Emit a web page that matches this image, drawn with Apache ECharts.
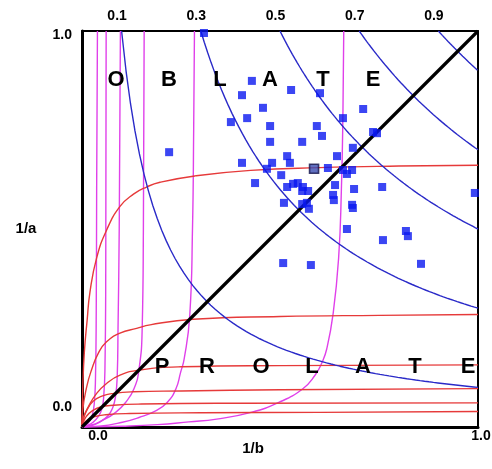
<!DOCTYPE html>
<html>
<head>
<meta charset="utf-8">
<script src="https://cdn.jsdelivr.net/npm/echarts@6/dist/echarts.min.js"></script>
<style>
  html, body { margin: 0; padding: 0; background: #ffffff; }
  #chart { width: 492px; height: 469px; }
</style>
</head>
<body>
<div id="chart"></div>
<script>
// Iso-lines of (1/a)·(1/b), labelled along the top edge
const isoProducts = [0.1, 0.3, 0.5, 0.7, 0.9];
const topTickValues = [0.1, 0.3, 0.5, 0.7, 0.9];

// Red guide curves [1/b, 1/a]; the magenta family is their mirror image about 1/a = 1/b
const redCurve039 = [[0,0],[0.005,0.010],[0.015,0.019],[0.03,0.026],[0.06,0.031],[0.12,0.034],[0.3,0.036],[0.6,0.037],[1,0.039]];
const redCurve061 = [[0,0],[0.004,0.014],[0.012,0.028],[0.025,0.040],[0.045,0.050],[0.08,0.055],[0.15,0.058],[0.4,0.060],[1,0.061]];
const redCurve097 = [[0,0],[0.004,0.020],[0.012,0.042],[0.028,0.065],[0.05,0.078],[0.08,0.085],[0.13,0.089],[0.25,0.091],[0.5,0.094],[1,0.097]];
const redCurve157 = [[0,0],[0.003,0.022],[0.016,0.051],[0.037,0.085],[0.062,0.110],[0.096,0.131],[0.146,0.144],[0.25,0.152],[0.5,0.155],[1,0.157]];
const redCurve283 = [[0,0],[0.002,0.043],[0.012,0.102],[0.024,0.144],[0.041,0.186],[0.062,0.215],[0.096,0.237],[0.138,0.249],[0.172,0.258],[0.28,0.272],[0.5,0.279],[0.75,0.282],[1,0.284]];
const redCurve660 = [[0,0],[0.002,0.10],[0.006,0.19],[0.013,0.27],[0.020,0.34],[0.037,0.427],[0.062,0.497],[0.096,0.557],[0.13,0.588],[0.163,0.606],[0.197,0.618],[0.285,0.634],[0.426,0.648],[0.6,0.655],[0.8,0.659],[1,0.661]];
const redCurves = [redCurve039, redCurve061, redCurve097, redCurve157, redCurve283, redCurve660];

// Measured samples [1/b, 1/a]
const samples = [
  [0.308,0.995],[0.429,0.874],[0.404,0.838],[0.528,0.851],[0.601,0.843],
  [0.457,0.806],[0.417,0.780],[0.376,0.770],[0.475,0.760],[0.593,0.760],
  [0.606,0.735],[0.710,0.803],[0.659,0.780],[0.735,0.745],[0.745,0.742],
  [0.475,0.720],[0.556,0.720],[0.684,0.705],[0.220,0.694],[0.404,0.667],
  [0.480,0.667],[0.518,0.684],[0.525,0.667],[0.644,0.684],[0.621,0.654],
  [0.467,0.652],[0.503,0.636],[0.659,0.649],[0.682,0.649],[0.669,0.639],
  [0.437,0.616],[0.518,0.606],[0.533,0.614],[0.545,0.616],[0.558,0.606],
  [0.571,0.596],[0.556,0.596],[0.639,0.611],[0.687,0.601],[0.758,0.606],
  [0.634,0.586],[0.636,0.573],[0.510,0.566],[0.556,0.563],[0.568,0.566],
  [0.573,0.551],[0.682,0.561],[0.684,0.553],[0.992,0.591],[0.669,0.500],
  [0.760,0.472],[0.818,0.495],[0.823,0.482],[0.508,0.414],[0.578,0.409],
  [0.856,0.412]
];
const markedSample = [[0.586,0.652]];

const diagonal = [[0,0],[1,1]];
const oblateLetters = ['O','B','L','A','T','E'];
const prolateLetters = ['P','R','O','L','A','T','E'];

// ---- drawing ----
const RED = '#e63a3a', MAGENTA = '#e040ea', BLUE_LINE = '#2a2ac8', BLUE_PT = '#0a18f0';
const G = { left: 82, top: 31, width: 396, height: 396 };
const FONT = 'Liberation Sans, Arial, sans-serif';

function isoCurve(k) {
  const pts = [];
  const n = 80;
  for (let i = 0; i <= n; i++) {
    const x = k + (1 - k) * i / n;
    pts.push([x, k / x]);
  }
  return pts;
}

const series = [];
redCurves.forEach(c => {
  series.push({
    type: 'line', data: c.map(p => [p[1], p[0]]), showSymbol: false, smooth: 0.5,
    lineStyle: { color: MAGENTA, width: 1.4 }, z: 2, silent: true
  });
});
redCurves.forEach(c => {
  series.push({
    type: 'line', data: c, showSymbol: false, smooth: 0.5,
    lineStyle: { color: RED, width: 1.4 }, z: 3, silent: true
  });
});
isoProducts.forEach(k => {
  series.push({
    type: 'line', data: isoCurve(k), showSymbol: false,
    lineStyle: { color: BLUE_LINE, width: 1.4 }, z: 4, silent: true
  });
});
series.push({
  type: 'line', data: diagonal, showSymbol: false,
  lineStyle: { color: '#000', width: 3.2 }, z: 5, silent: true
});
series.push({
  type: 'scatter', data: samples, symbol: 'rect', symbolSize: 8,
  itemStyle: { color: BLUE_PT }, z: 6
});
series.push({
  type: 'scatter', data: markedSample, symbol: 'rect', symbolSize: 9,
  itemStyle: { color: '#3a4cb0', borderColor: '#14144a', borderWidth: 1.6 }, z: 7
});

const oblateX = [116, 169, 220, 270, 323, 373];
const prolateX = [162, 207, 261, 312, 363, 415, 468];
const graphic = [];
const letterStyle = { fontFamily: FONT, fontWeight: 'bold', fontSize: 22, fill: '#000', textAlign: 'center', textVerticalAlign: 'middle' };
oblateLetters.forEach((t, i) => graphic.push({ type: 'text', x: oblateX[i], y: 80, z: 100, style: Object.assign({ text: t }, letterStyle) }));
prolateLetters.forEach((t, i) => graphic.push({ type: 'text', x: prolateX[i], y: 367, z: 100, style: Object.assign({ text: t }, letterStyle) }));

const tickFont = { fontFamily: FONT, fontWeight: 'bold', fontSize: 14, fill: '#000' };
const sideLabels = [
  { text: '1.0', x: 72, y: 35, align: 'right' },
  { text: '0.0', x: 72, y: 407, align: 'right' },
  { text: '0.0', x: 98, y: 436, align: 'center' },
  { text: '1.0', x: 481, y: 436, align: 'center' }
];
sideLabels.forEach(l => graphic.push({ type: 'text', x: l.x, y: l.y, style: Object.assign({ text: l.text, textAlign: l.align, textVerticalAlign: 'middle' }, tickFont) }));
const nameFont = { fontFamily: FONT, fontWeight: 'bold', fontSize: 15, fill: '#000', textAlign: 'center', textVerticalAlign: 'middle' };
graphic.push({ type: 'text', x: 26, y: 229, style: Object.assign({ text: '1/a' }, nameFont) });
graphic.push({ type: 'text', x: 253, y: 449, style: Object.assign({ text: '1/b' }, nameFont) });

const frameAxis = (width) => ({ show: true, onZero: false, lineStyle: { color: '#000', width: width } });

const chart = echarts.init(document.getElementById('chart'), null, { renderer: 'canvas' });
chart.setOption({
  animation: false,
  backgroundColor: '#fff',
  grid: G,
  xAxis: [
    { type: 'value', min: 0, max: 1, position: 'bottom',
      axisLine: frameAxis(3), axisTick: { show: false },
      axisLabel: { show: false }, splitLine: { show: false } },
    { type: 'value', min: 0, max: 1, position: 'top',
      axisLine: frameAxis(2), axisTick: { show: false },
      axisLabel: { customValues: topTickValues, formatter: v => v.toFixed(1), margin: 8,
        color: '#000', fontWeight: 'bold', fontSize: 14, fontFamily: FONT,
        padding: [0, 9, 0, 0] },
      splitLine: { show: false } }
  ],
  yAxis: [
    { type: 'value', min: 0, max: 1, position: 'left',
      axisLine: frameAxis(3), axisTick: { show: false },
      axisLabel: { show: false }, splitLine: { show: false } },
    { type: 'value', min: 0, max: 1, position: 'right',
      axisLine: frameAxis(2), axisTick: { show: false },
      axisLabel: { show: false }, splitLine: { show: false } }
  ],
  series: series,
  graphic: graphic
});
</script>
</body>
</html>
